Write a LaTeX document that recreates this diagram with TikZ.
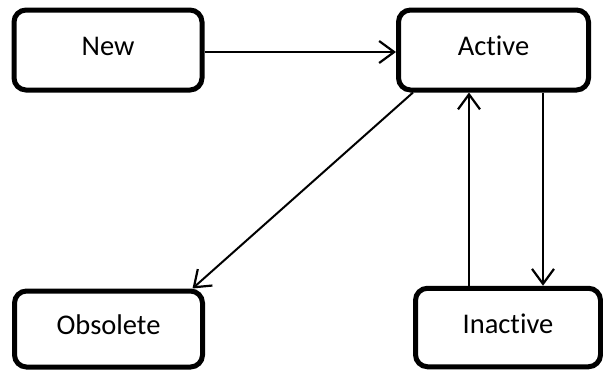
\documentclass[tikz,border=0pt]{standalone}
\usepackage{fontspec}
\setmainfont{Carlito}[Ligatures={NoCommon}]
\usetikzlibrary{arrows.meta}
\begin{document}
\begin{tikzpicture}[x=1pt,y=-1pt,
  state/.style={draw=black, line width=5pt, rounded corners=12pt, fill=white,
    font=\fontsize{28.5}{34}\selectfont, text height=16pt, text depth=5pt,
    inner sep=0pt},
  arr/.style={line width=2pt,
    -{Straight Barb[length=15pt,width=22pt,line width=2.2pt]}}]
  \useasboundingbox[fill=white] (0,0) rectangle (603,370);
  % states
  \node[state, minimum width=188pt, minimum height=80pt] (new) at (108,50) {New};
  \node[state, minimum width=190pt, minimum height=80pt] (active) at (493.5,50) {Active};
  \node[state, minimum width=188pt, minimum height=76pt] (obsolete) at (108.5,329) {Obsolete};
  \node[state, minimum width=185pt, minimum height=78.5pt] (inactive) at (508,327.5) {Inactive};
  % transitions
  \draw[arr] ([yshift=-2pt]new.east) -- ([yshift=-2pt]active.west);
  \draw[arr] ([xshift=17pt]active.south west) -- ([xshift=-12.5pt]obsolete.north east);
  \draw[arr] ([xshift=-39pt]inactive.north) -- ([xshift=-39pt]inactive.north |- active.south);
  \draw[arr] ([xshift=49.5pt]active.south) -- ([xshift=49.5pt]active.south |- inactive.north);
\end{tikzpicture}
\end{document}
